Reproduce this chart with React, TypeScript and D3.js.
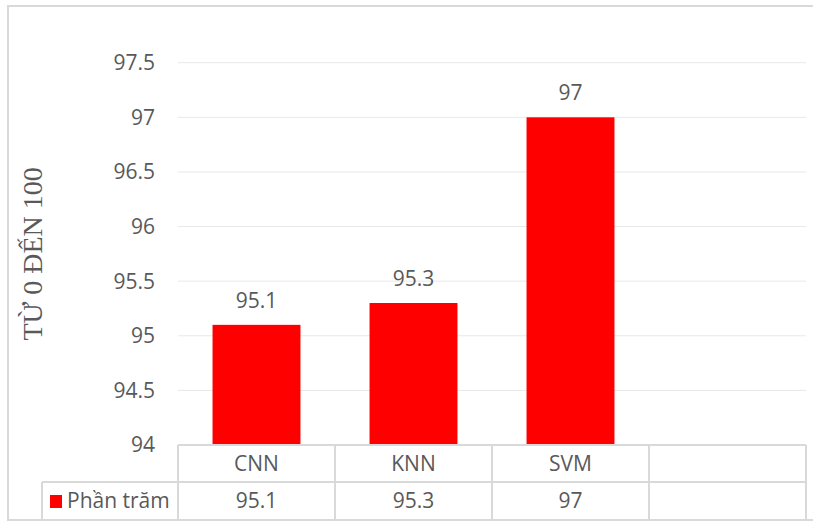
import React from 'react';
import * as d3 from 'd3';

const categories = ['CNN', 'KNN', 'SVM', ''];
const values: (number | null)[] = [95.1, 95.3, 97, null];
const yTicks = [94, 94.5, 95, 95.5, 96, 96.5, 97, 97.5];
const seriesName = 'Phần trăm';
const axisTitle = 'TỪ 0 ĐẾN 100';

const W = 813;
const H = 522;
const left = 178;
const right = 806;
const top = 62.7;
const axisY = 445;
const rowY = 482;
const tableBottom = 520;
const legendLeft = 42;

const textColor = '#595959';
const lineColor = '#d9d9d9';
const gridColor = '#e8e8e8';
const font = '"Open Sans", "Liberation Sans", sans-serif';
const fs = 21;

const fmt = (v: number) => String(v);

const App = () => {
  const x = d3.scaleBand<string>().domain(categories).range([left, right]).padding(0);
  const y = d3.scaleLinear().domain([94, 97.5]).range([axisY, top]);
  const barW = x.bandwidth() * 0.56;

  return (
    <svg width={W} height={H} style={{ position: 'absolute', left: 0, top: 0, background: '#fff' }}>
      {/* outer frame */}
      <rect x={8} y={6} width={W} height={tableBottom - 6} fill="#fff" stroke={lineColor} strokeWidth={2} />

      {/* gridlines */}
      {yTicks.slice(1).map((t) => (
        <line key={t} x1={left} x2={right} y1={y(t)} y2={y(t)} stroke={gridColor} strokeWidth={1} />
      ))}

      {/* tick labels */}
      {yTicks.map((t) => (
        <text key={t} x={155} y={y(t)} dy="0.35em" textAnchor="end" fontFamily={font} fontSize={fs} fill={textColor}>
          {fmt(t)}
        </text>
      ))}

      {/* axis title */}
      <text
        transform={`translate(42,${(top + axisY) / 2}) rotate(-90)`}
        textAnchor="middle"
        fontFamily='"Liberation Serif", "DejaVu Serif", serif'
        fontSize={28}
        fill={textColor}
      >
        {axisTitle}
      </text>

      {/* bars */}
      {categories.map((c, i) => {
        const v = values[i];
        if (v == null) return null;
        const cx = (x(c) ?? 0) + x.bandwidth() / 2;
        return (
          <g key={c}>
            <rect x={cx - barW / 2} y={y(v)} width={barW} height={axisY - y(v)} fill="#ff0000" />
            <text x={cx} y={y(v) - 17} textAnchor="middle" fontFamily={font} fontSize={fs} fill={textColor}>
              {fmt(v)}
            </text>
          </g>
        );
      })}

      {/* data table */}
      <line x1={left} x2={right} y1={axisY} y2={axisY} stroke={lineColor} strokeWidth={2} />
      <line x1={legendLeft} x2={right} y1={rowY} y2={rowY} stroke={lineColor} strokeWidth={2} />
      <line x1={legendLeft} x2={legendLeft} y1={rowY} y2={tableBottom} stroke={lineColor} strokeWidth={2} />
      {categories.map((c) => (
        <line key={'v' + c} x1={x(c)} x2={x(c)} y1={axisY} y2={tableBottom} stroke={lineColor} strokeWidth={2} />
      ))}
      <line x1={right} x2={right} y1={axisY} y2={tableBottom} stroke={lineColor} strokeWidth={2} />

      {categories.map((c, i) => {
        const cx = (x(c) ?? 0) + x.bandwidth() / 2;
        const v = values[i];
        return (
          <g key={'t' + i}>
            <text x={cx} y={(axisY + rowY) / 2} dy="0.35em" textAnchor="middle" fontFamily={font} fontSize={fs} fill={textColor}>
              {c}
            </text>
            {v != null && (
              <text x={cx} y={(rowY + tableBottom) / 2} dy="0.35em" textAnchor="middle" fontFamily={font} fontSize={fs} fill={textColor}>
                {fmt(v)}
              </text>
            )}
          </g>
        );
      })}

      {/* legend key */}
      <rect x={50} y={495} width={12} height={13} fill="#ff0000" />
      <text x={67} y={(rowY + tableBottom) / 2} dy="0.35em" fontFamily={font} fontSize={fs} fill={textColor}>
        {seriesName}
      </text>
    </svg>
  );
};

export default App;
